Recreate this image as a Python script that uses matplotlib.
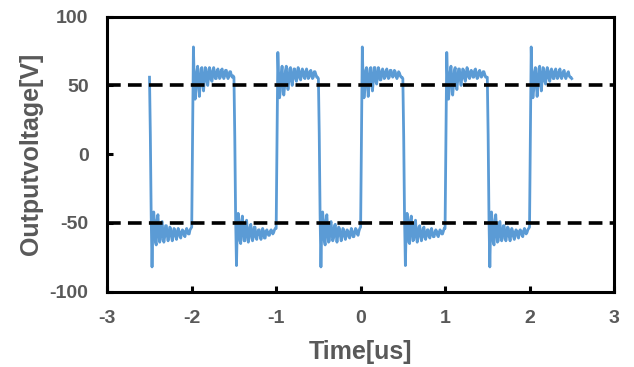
import numpy as np
import matplotlib
matplotlib.use('Agg')
import matplotlib.pyplot as plt

plt.rcParams['font.family'] = ['Liberation Sans', 'DejaVu Sans']

# Oscilloscope trace, sampled every 0.01 us starting at -2.50 us
t_start = -2.50
t_step = 0.01
v_first = [56]

lo1 = [14, -45, -82, -52, -42, -50, -64, -66, -48, -44,
       -56, -64, -62, -50, -49, -58, -64, -60, -52, -52,
       -59, -63, -59, -53, -54, -60, -63, -58, -54, -55,
       -60, -62, -57, -54, -56, -60, -61, -57, -55, -56,
       -59, -60, -56, -54, -56, -58, -58, -55, -54, -53]
hi1 = [10, 78, 52, 40, 47, 60, 64, 52, 42, 50,
       62, 63, 52, 46, 54, 63, 62, 53, 50, 57,
       63, 61, 54, 53, 59, 63, 60, 55, 55, 60,
       62, 59, 55, 56, 61, 62, 58, 55, 57, 61,
       61, 57, 55, 57, 60, 60, 57, 56, 57, 56]
lo2 = [12, -47, -81, -51, -43, -51, -63, -65, -49, -45,
       -55, -63, -63, -51, -48, -57, -64, -61, -53, -51,
       -58, -63, -60, -53, -53, -60, -62, -58, -55, -55,
       -59, -62, -58, -54, -56, -61, -61, -56, -55, -57,
       -59, -59, -56, -55, -56, -58, -57, -55, -54, -54]
hi2 = [8, 74, 53, 41, 46, 59, 64, 53, 43, 49,
       61, 64, 53, 47, 53, 62, 63, 54, 50, 56,
       62, 62, 55, 53, 58, 63, 61, 55, 54, 59,
       62, 60, 56, 55, 60, 62, 59, 55, 56, 60,
       61, 58, 55, 56, 60, 60, 58, 56, 56, 55]
lo3 = [15, -44, -82, -53, -42, -49, -63, -66, -49, -44,
       -55, -64, -63, -51, -49, -57, -63, -61, -52, -51,
       -58, -64, -59, -53, -54, -59, -63, -59, -54, -55,
       -60, -62, -58, -55, -56, -60, -61, -57, -54, -56,
       -60, -60, -57, -54, -55, -58, -59, -56, -54, -53]
hi3 = [11, 78, 51, 41, 47, 61, 63, 52, 42, 51,
       62, 63, 53, 46, 53, 63, 63, 53, 51, 57,
       63, 61, 54, 54, 59, 62, 60, 55, 56, 60,
       62, 58, 55, 56, 61, 61, 58, 56, 57, 61,
       60, 57, 55, 57, 60, 59, 57, 56, 56, 55]
lo4 = [13, -46, -81, -52, -43, -50, -64, -65, -48, -45,
       -56, -63, -62, -51, -48, -58, -64, -60, -53, -52,
       -59, -63, -60, -54, -53, -60, -62, -58, -55, -55,
       -60, -61, -57, -54, -57, -60, -60, -57, -55, -56,
       -59, -60, -57, -55, -56, -58, -58, -56, -54, -54]
hi4 = [9, 74, 52, 40, 46, 60, 64, 53, 43, 50,
       61, 63, 52, 47, 54, 62, 62, 54, 50, 57,
       62, 61, 55, 53, 58, 63, 61, 56, 55, 59,
       61, 59, 56, 56, 61, 62, 58, 55, 56, 60,
       61, 58, 56, 57, 60, 60, 58, 56, 56, 56]
lo5 = [14, -47, -82, -51, -42, -51, -64, -66, -49, -44,
       -55, -64, -63, -50, -49, -58, -63, -61, -52, -52,
       -58, -63, -59, -53, -54, -60, -63, -58, -54, -56,
       -60, -62, -57, -55, -56, -60, -61, -56, -55, -56,
       -59, -60, -56, -54, -56, -58, -57, -55, -54, -53]
hi5 = [10, 78, 52, 41, 47, 60, 63, 52, 42, 50,
       62, 64, 53, 46, 54, 63, 62, 53, 51, 57,
       63, 61, 55, 53, 59, 62, 60, 55, 55, 60,
       62, 59, 55, 56, 60, 62, 58, 55, 57, 60,
       61, 57, 55, 57, 59, 60, 57, 56, 56, 55]

ref_levels = [50, -50]
xticks = [-3, -2, -1, 0, 1, 2, 3]
yticks = [-100, -50, 0, 50, 100]

volts = np.array(v_first + lo1 + hi1 + lo2 + hi2 + lo3 + hi3 + lo4 + hi4 + lo5 + hi5)
time = t_start + t_step * np.arange(len(volts))

gray = '#595959'
fig = plt.figure(figsize=(6.34, 3.67), dpi=100)
ax = fig.add_axes([0.1692, 0.2052, 0.7992, 0.7493])

ax.plot(time, volts, color='#5B9BD5', lw=2.0, zorder=2)
for lev in ref_levels:
    ax.plot([-3, 3], [lev, lev], color='black', lw=2.6, dashes=(3.8, 2.0), zorder=3)

ax.set_xlim(-3, 3)
ax.set_ylim(-100, 100)
ax.set_xticks(xticks)
ax.set_yticks(yticks)
ax.set_xticklabels([str(v) for v in xticks])
ax.set_yticklabels([str(v) for v in yticks])
for s in ax.spines.values():
    s.set_linewidth(2.2)
    s.set_color('black')
ax.tick_params(direction='in', length=4, width=2.2, color='black',
               labelsize=14, labelcolor=gray, pad=13.5)
for lab in ax.get_xticklabels() + ax.get_yticklabels():
    lab.set_fontweight('bold')

fig.text(360.5 / 634, 1 - 352 / 367, 'Time[us]', ha='center', va='center',
         fontsize=18, fontweight='bold', color=gray)
fig.text(31 / 634, 1 - 154 / 367, 'Outputvoltage[V]', ha='center', va='center',
         rotation=90, fontsize=18, fontweight='bold', color=gray)

fig.savefig('out.png', dpi=100)
